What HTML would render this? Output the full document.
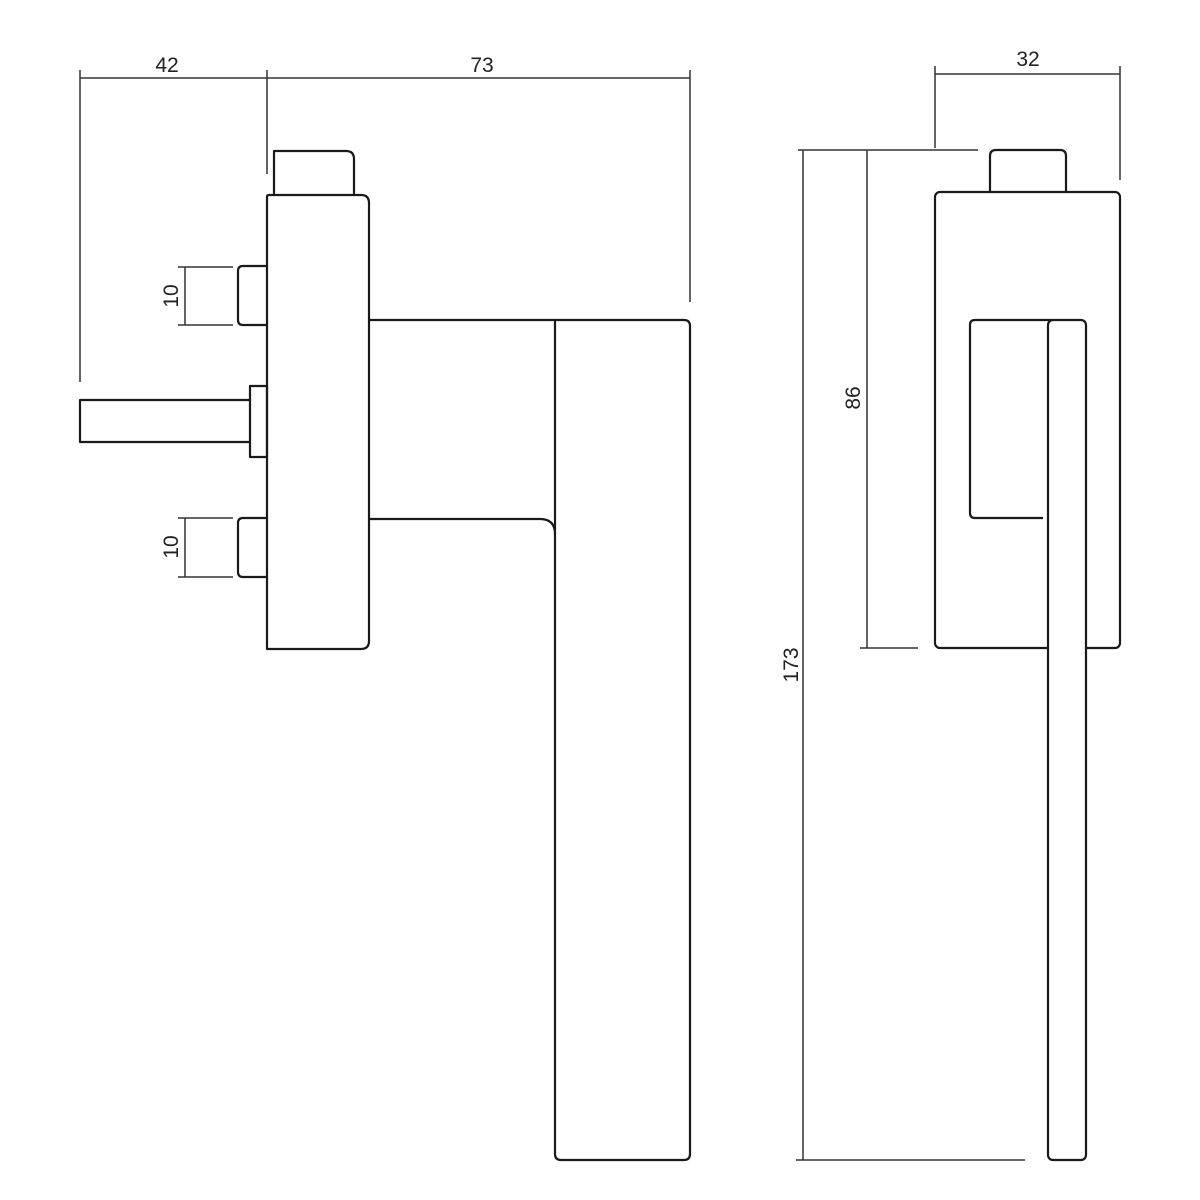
<!DOCTYPE html>
<html><head><style>html,body{margin:0;padding:0;background:#fff}svg{display:block}</style></head>
<body>
<svg width="1200" height="1200" viewBox="0 0 1200 1200" xmlns="http://www.w3.org/2000/svg">
<g fill="none" stroke="#333" stroke-width="1.5">
<line x1="80" y1="78" x2="690" y2="78"/>
<line x1="80" y1="70" x2="80" y2="382"/>
<line x1="267" y1="70" x2="267" y2="174"/>
<line x1="690" y1="70" x2="690" y2="302"/>
<line x1="185" y1="267" x2="185" y2="325"/>
<line x1="178" y1="267" x2="233" y2="267"/>
<line x1="178" y1="325" x2="233" y2="325"/>
<line x1="185" y1="518" x2="185" y2="577"/>
<line x1="178" y1="518" x2="233" y2="518"/>
<line x1="178" y1="577" x2="233" y2="577"/>
<line x1="935" y1="74" x2="1120" y2="74"/>
<line x1="935" y1="66" x2="935" y2="148"/>
<line x1="1120" y1="66" x2="1120" y2="180"/>
<line x1="798" y1="150" x2="978" y2="150"/>
<line x1="867" y1="150" x2="867" y2="648"/>
<line x1="860" y1="648" x2="918" y2="648"/>
<line x1="803" y1="150" x2="803" y2="1160"/>
<line x1="796" y1="1160" x2="1025" y2="1160"/>
</g>
<g fill="none" stroke="#1a1a1a" stroke-width="2.2" stroke-linejoin="round">
<path d="M274 194 V151 H346 Q354 151 354 159 V194"/>
<path d="M267 649 V197 Q267 195 269 195 H361 Q369 195 369 203 V641 Q369 649 361 649 Z"/>
<path d="M267 266 H243 Q238 266 238 271 V320 Q238 325 243 325 H267"/>
<path d="M267 518 H243 Q238 518 238 523 V572 Q238 577 243 577 H267"/>
<path d="M250 400 H80 V442 H250"/>
<rect x="250" y="386" width="17" height="71"/>
<path d="M369 320 H684 Q690 320 690 326 V1154 Q690 1160 684 1160 H561 Q555 1160 555 1154 V320"/>
<path d="M369 519 H540 Q555 519 555 534"/>
<path d="M990 192 V156 Q990 150 996 150 H1060 Q1066 150 1066 156 V192"/>
<rect x="935" y="192" width="185" height="456" rx="5"/>
<path d="M1043 518 H975 Q970 518 970 513 V325 Q970 320 975 320 H1052"/>
<rect x="1048" y="320" width="38" height="840" rx="5" fill="#fff"/>
</g>
<g font-family="'Liberation Sans',sans-serif" font-size="21" fill="#222" text-anchor="middle">
<text x="167" y="72">42</text>
<text x="482" y="72">73</text>
<text x="1028" y="66">32</text>
<text transform="translate(178,296) rotate(-90)">10</text>
<text transform="translate(178,547) rotate(-90)">10</text>
<text transform="translate(860,398) rotate(-90)">86</text>
<text transform="translate(798,665) rotate(-90)">173</text>
</g>
</svg>
</body></html>
